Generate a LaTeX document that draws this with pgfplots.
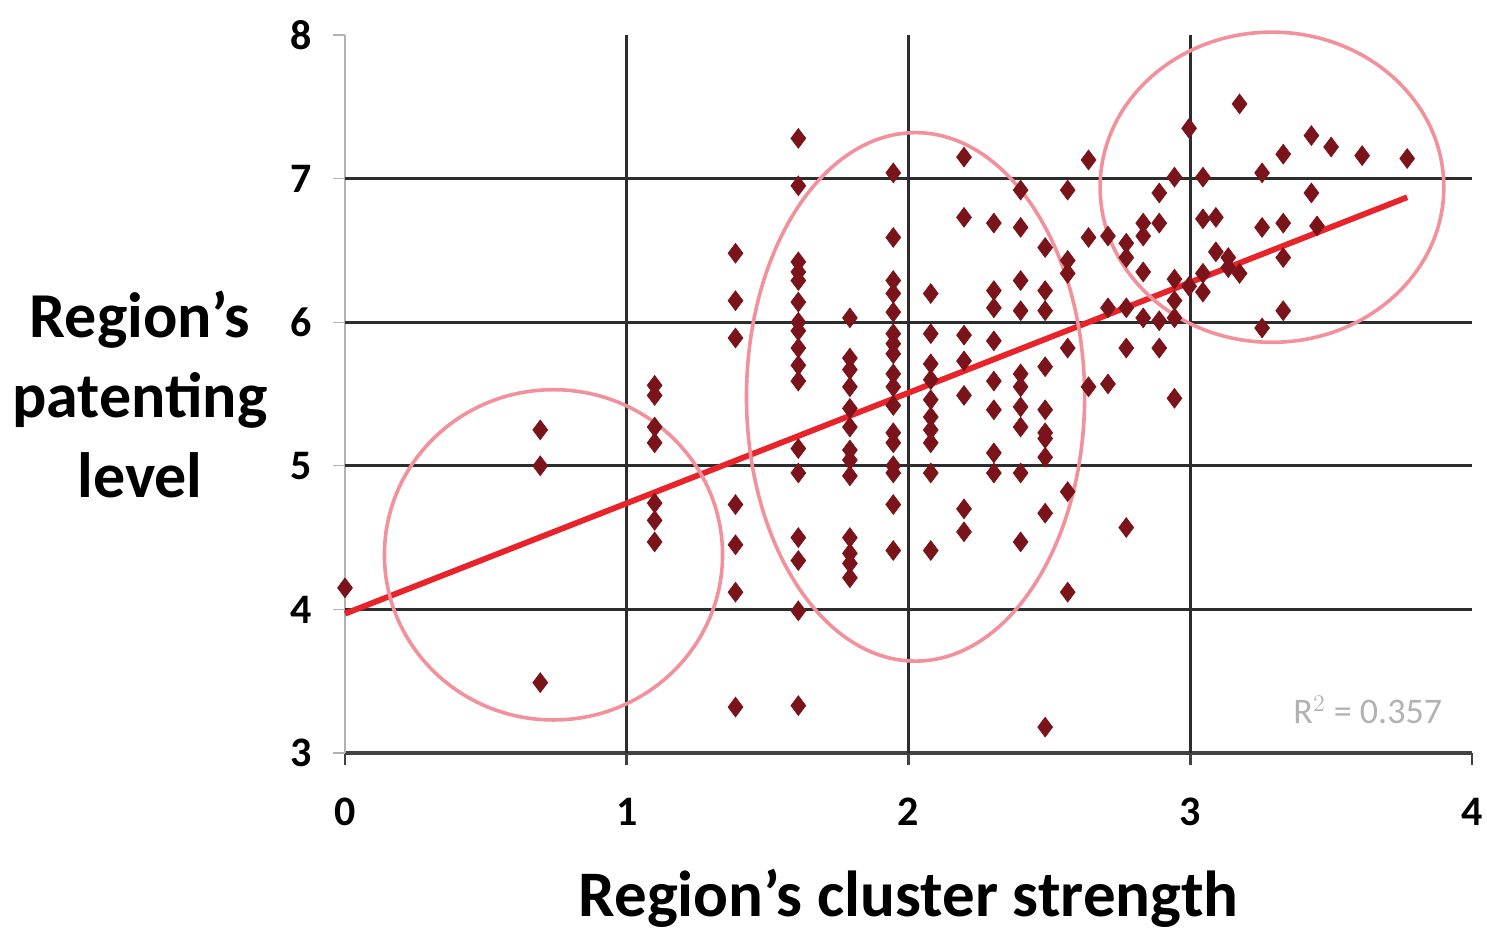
\documentclass[border=0pt]{standalone}
\usepackage{fontspec}
\setmainfont{Carlito}
\usepackage{pgfplots}
\pgfplotsset{compat=1.18}
\definecolor{mk}{RGB}{122,20,26}
\definecolor{trend}{RGB}{232,35,42}
\definecolor{ell}{RGB}{242,145,155}
\definecolor{gridc}{RGB}{45,45,45}
\begin{document}
\begin{tikzpicture}
\begin{axis}[
  scale only axis, width=563.5pt, height=359pt,
  xmin=0, xmax=4, ymin=3, ymax=8,
  axis x line*=bottom, axis y line*=left,
  x axis line style={draw=gridc!90, line width=1.6pt},
  y axis line style={draw=black!30, line width=0.6pt},
  xtick={0,1,2,3,4}, ytick={3,4,5,6,7,8},
  tick align=outside,
  x tick style={draw=gridc!90, line width=1.4pt},
  y tick style={draw=black!30, line width=0.6pt},
  major tick length=6pt,
  /pgf/number format/assume math mode=true,
  ticklabel style={font=\fontsize{21}{25}\selectfont\bfseries},
  xticklabel style={yshift=-13pt},
  yticklabel style={xshift=-7pt},
  extra x ticks={1,2,3}, extra y ticks={4,5,6,7},
  extra tick style={grid=major, major tick length=0pt},
  extra x tick labels={}, extra y tick labels={},
  grid style={draw=gridc, line width=1.5pt},
  xlabel={Region's cluster strength},
  xlabel style={font=\fontsize{32.5}{38}\selectfont\bfseries, yshift=-9pt},
  clip=false,
]
\coordinate (O) at (rel axis cs:0,0);
\addplot[only marks, mark=diamond*, mark size=4.9pt, mark options={draw=mk, fill=mk}] coordinates {
(0,4.15)
(0.693,5.25) (0.693,5.0) (0.693,3.49)
(1.099,5.56) (1.099,5.49) (1.099,5.27) (1.099,5.16) (1.099,4.74) (1.099,4.62) (1.099,4.47)
(1.386,6.48) (1.386,6.15) (1.386,5.89) (1.386,4.73) (1.386,4.45) (1.386,4.12) (1.386,3.32)
(1.609,7.28) (1.609,6.95) (1.609,6.42) (1.609,6.35) (1.609,6.29) (1.609,6.14) (1.609,6.0) (1.609,5.94) (1.609,5.82) (1.609,5.70) (1.609,5.59) (1.609,5.12) (1.609,4.95) (1.609,4.50) (1.609,4.34) (1.609,3.99) (1.609,3.33)
(1.792,6.03) (1.792,5.75) (1.792,5.67) (1.792,5.55) (1.792,5.40) (1.792,5.27) (1.792,5.11) (1.792,5.04) (1.792,4.93) (1.792,4.50) (1.792,4.39) (1.792,4.32) (1.792,4.22)
(1.946,7.04) (1.946,6.59) (1.946,6.29) (1.946,6.20) (1.946,6.07) (1.946,5.92) (1.946,5.85) (1.946,5.78) (1.946,5.64) (1.946,5.55) (1.946,5.42) (1.946,5.23) (1.946,5.16) (1.946,5.0) (1.946,4.95) (1.946,4.73) (1.946,4.41)
(2.079,6.20) (2.079,5.92) (2.079,5.71) (2.079,5.60) (2.079,5.46) (2.079,5.34) (2.079,5.25) (2.079,5.16) (2.079,4.95) (2.079,4.41)
(2.197,7.15) (2.197,6.73) (2.197,5.91) (2.197,5.73) (2.197,5.49) (2.197,4.70) (2.197,4.54)
(2.303,6.69) (2.303,6.22) (2.303,6.10) (2.303,5.87) (2.303,5.59) (2.303,5.39) (2.303,5.09) (2.303,4.95)
(2.398,6.92) (2.398,6.66) (2.398,6.29) (2.398,6.08) (2.398,5.64) (2.398,5.55) (2.398,5.41) (2.398,5.27) (2.398,4.95) (2.398,4.47)
(2.485,6.52) (2.485,6.22) (2.485,6.08) (2.485,5.69) (2.485,5.39) (2.485,5.23) (2.485,5.19) (2.485,5.06) (2.485,4.67) (2.485,3.18)
(2.565,6.92) (2.565,6.43) (2.565,6.34) (2.565,5.82) (2.565,4.82) (2.565,4.12)
(2.639,7.13) (2.639,6.59) (2.639,5.55)
(2.708,6.60) (2.708,6.10) (2.708,5.57)
(2.773,6.55) (2.773,6.45) (2.773,6.10) (2.773,5.82) (2.773,4.57)
(2.833,6.69) (2.833,6.60) (2.833,6.35) (2.833,6.03)
(2.890,6.90) (2.890,6.69) (2.890,6.01) (2.890,5.82)
(2.944,7.01) (2.944,6.30) (2.944,6.15) (2.944,6.03) (2.944,5.47)
(2.996,7.35) (2.996,6.25)
(3.045,7.01) (3.045,6.72) (3.045,6.34) (3.045,6.21)
(3.091,6.73) (3.091,6.49)
(3.135,6.45) (3.135,6.38)
(3.175,7.52) (3.175,6.34)
(3.255,7.04) (3.255,6.66) (3.255,5.96)
(3.33,7.17) (3.33,6.69) (3.33,6.45) (3.33,6.08)
(3.43,7.30) (3.43,6.90) (3.45,6.67)
(3.50,7.22)
(3.61,7.16)
(3.77,7.14)
};
\addplot[trend, line width=2.9pt] coordinates {(0,3.97) (3.77,6.87)};
\draw[ell, line width=1.8pt] (axis cs:0.74,4.38) ellipse [x radius=0.6, y radius=1.15];
\draw[ell, line width=1.8pt] (axis cs:2.025,5.48) ellipse [x radius=0.6, y radius=1.84];
\draw[ell, line width=1.8pt] (axis cs:3.29,6.94) ellipse [x radius=0.61, y radius=1.08];
\node[text=black!30, font=\fontsize{18}{20}\selectfont] at (axis cs:3.63,3.3) {R$^2$ = 0.357};
\node[align=center, font=\fontsize{32}{40}\selectfont\bfseries] at ([xshift=-102.5pt]rel axis cs:0,0.5) {Region's\\patenting\\level};
\end{axis}
\pgfresetboundingbox
\path ([shift={(-172.5pt,-91pt)}]O) rectangle ([shift={(571pt,376.5pt)}]O);
\end{tikzpicture}
\end{document}
